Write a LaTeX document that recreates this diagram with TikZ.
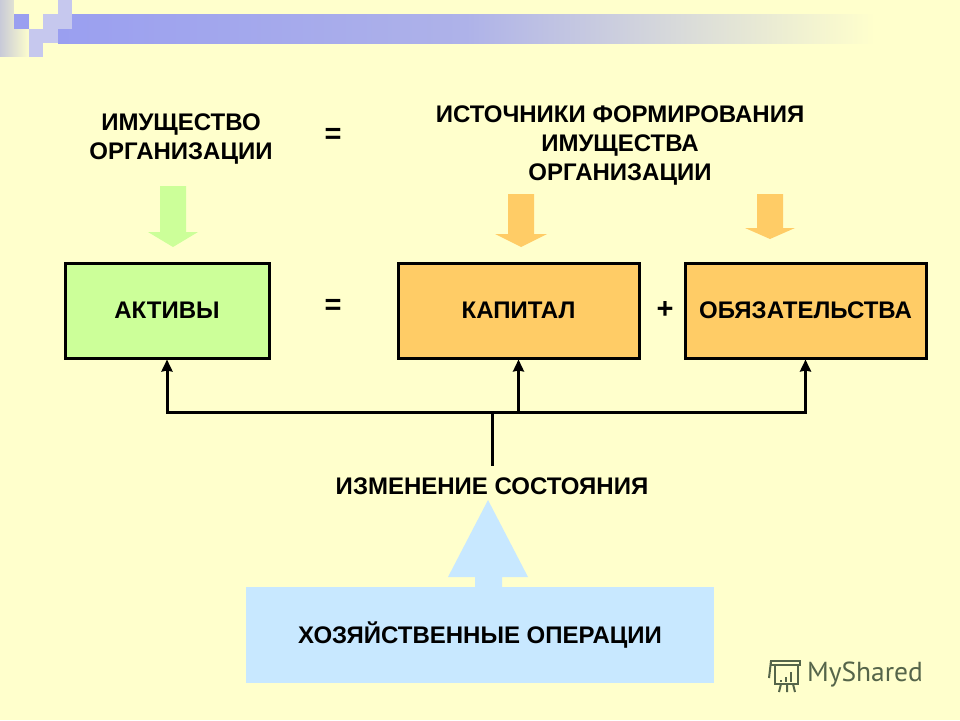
\documentclass[tikz,border=0pt]{standalone}
\usepackage{fontspec}
\setmainfont{Liberation Sans}
\newfontfamily\logofont{PT Sans}
\usetikzlibrary{arrows.meta}
\definecolor{slidecolor}{HTML}{FFFFCC}
\definecolor{bandcolor}{HTML}{9A9FF0}
\definecolor{palecolor}{HTML}{C6C8EE}
\definecolor{greycolor}{HTML}{C8CAD8}
\definecolor{assetcolor}{HTML}{CCFF99}
\definecolor{capitalcolor}{HTML}{FFCC66}
\definecolor{opcolor}{HTML}{C8E8FF}
\definecolor{logocolor}{HTML}{55654A}
\begin{document}
\begin{tikzpicture}
  [x=1pt,y=-1pt,line cap=butt,
   % Styles
   caption/.style={font=\fontsize{24}{29}\selectfont\bfseries,align=center,text=black},
   sign/.style={font=\fontsize{29}{29}\selectfont\bfseries,text=black},
   balance box/.style={draw=black,line width=3pt,minimum height=95pt,caption},
   link/.style={line width=3pt,draw=black},
   link tip/.style={-{Stealth[length=12pt,width=11pt,inset=1pt]}}]

  \useasboundingbox (0,0) rectangle (960,720);
  \fill[slidecolor] (0,0) rectangle (960,720);

  % Header decoration
  \shade[left color=bandcolor,right color=slidecolor,middle color=bandcolor!80!slidecolor]
    (58,14) rectangle (875,43);
  \shade[left color=greycolor,right color=slidecolor] (0,0) rectangle (30,56);
  \fill[slidecolor] (14,0) rectangle (30,14);
  \fill[bandcolor] (14,14) rectangle (29,29);
  \fill[palecolor] (29,29) rectangle (43,57);
  \fill[palecolor] (43,14) rectangle (58,43);
  \fill[palecolor] (58,0) rectangle (72,29);

  % Upper captions
  \node[caption] (property) at (181,139) {ИМУЩЕСТВО\\ОРГАНИЗАЦИИ};
  \node[caption] (sources) at (620,146) {ИСТОЧНИКИ ФОРМИРОВАНИЯ\\ИМУЩЕСТВА\\ОРГАНИЗАЦИИ};
  \node[sign] (eqtop) at (333,136) {=};

  % Block arrows
  \foreach \x/\ytop/\yneck/\ytip/\hw/\arrowcolor in
    {173/186/232/247/25/assetcolor, 521/194/234/247/26/capitalcolor, 770/194/228/239/25/capitalcolor}
    \fill[\arrowcolor] (\x-13,\ytop) -- (\x+13,\ytop) -- (\x+13,\yneck) -- (\x+\hw,\yneck)
      -- (\x,\ytip) -- (\x-\hw,\yneck) -- (\x-13,\yneck) -- cycle;

  % Balance boxes
  \node[balance box,fill=assetcolor,minimum width=204pt] (assets) at (167,310.5) {АКТИВЫ};
  \node[balance box,fill=capitalcolor,minimum width=241pt] (capital) at (518.5,310.5) {КАПИТАЛ};
  \node[balance box,fill=capitalcolor,minimum width=241pt] (debts) at (805.5,310.5) {ОБЯЗАТЕЛЬСТВА};
  \node[sign] (eqmid) at (333,307) {=};
  \node[sign] (plus) at (665,310) {+};

  % Change of state
  \node[caption,minimum height=40pt] (change) at (492,486) {ИЗМЕНЕНИЕ СОСТОЯНИЯ};
  \coordinate (bus) at (492,412);
  \draw[link] (change.north) -- (bus);
  \draw[link,link tip] (bus) -| (assets.south);
  \draw[link,link tip] (bus) -| (debts.south);
  \draw[link,line width=2.5pt,link tip] (capital.south |- bus) -- (capital.south);

  % Operations
  \node[caption,fill=opcolor,minimum width=468pt,minimum height=96pt] (operations) at (480,635)
    {ХОЗЯЙСТВЕННЫЕ ОПЕРАЦИИ};
  \fill[opcolor] (488,500) -- (528,577) -- (502,577) -- (502,587) -- (475,587) -- (475,577)
    -- (448,577) -- cycle;

  % Logo
  \node[font=\logofont\fontsize{27.5}{27.5}\selectfont,text=logocolor] (logo) at (865,675) {MyShared};
  \begin{scope}[draw=logocolor,line width=2pt]
    \draw (771,661) -- (800,661) -- (800,665) -- (771,665) -- cycle;
    \draw (775,665) rectangle (798,684);
    \draw (771,661) -- (769,678);
    \draw (781,684) -- (779,692) (787,684) -- (787,692) (793,684) -- (795,692);
    \foreach \x/\ybar in {781/680, 786/677, 791/672}
      \draw[line width=2.5pt] (\x,682) -- (\x,\ybar);
  \end{scope}
\end{tikzpicture}
\end{document}
